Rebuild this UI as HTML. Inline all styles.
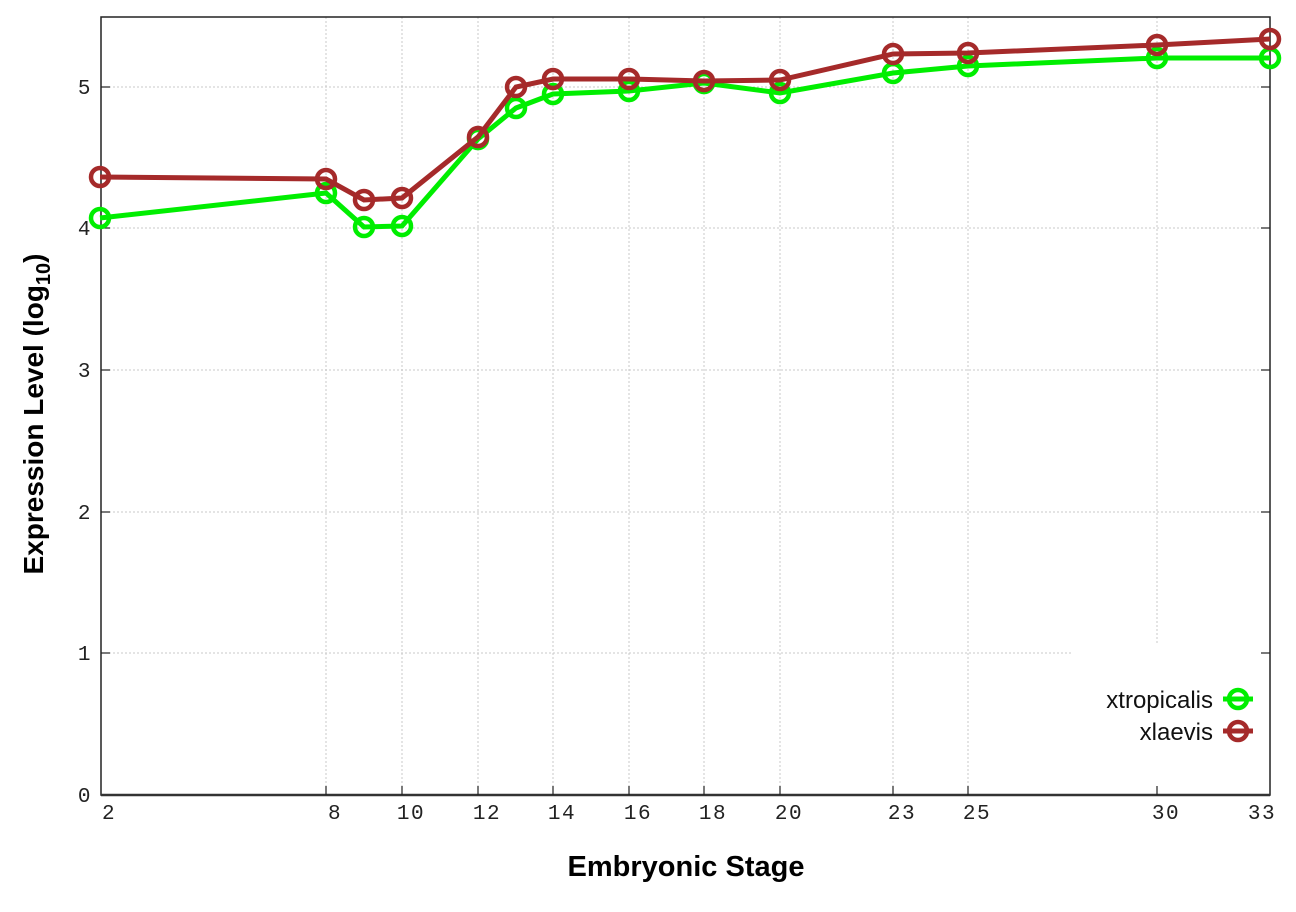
<!DOCTYPE html>
<html><head><meta charset="utf-8"><style>body{margin:0;background:#fff}</style></head><body>
<svg width="1296" height="907" xmlns="http://www.w3.org/2000/svg">
<rect width="1296" height="907" fill="#fff"/>
<g stroke="#c8c8c8" stroke-width="1" stroke-dasharray="2,2">
<line x1="101" y1="87" x2="1270" y2="87"/><line x1="101" y1="228" x2="1270" y2="228"/><line x1="101" y1="370" x2="1270" y2="370"/><line x1="101" y1="512" x2="1270" y2="512"/><line x1="101" y1="653" x2="1072" y2="653"/>
<line x1="326" y1="17" x2="326" y2="795"/><line x1="402" y1="17" x2="402" y2="795"/><line x1="478" y1="17" x2="478" y2="795"/><line x1="553" y1="17" x2="553" y2="795"/><line x1="629" y1="17" x2="629" y2="795"/><line x1="704" y1="17" x2="704" y2="795"/><line x1="780" y1="17" x2="780" y2="795"/><line x1="893" y1="17" x2="893" y2="795"/><line x1="968" y1="17" x2="968" y2="795"/><line x1="1157" y1="17" x2="1157" y2="643"/>
</g>
<rect x="101" y="17" width="1169" height="778" fill="none" stroke="#222" stroke-width="1.5"/>
<line x1="101" y1="795" x2="1270" y2="795" stroke="#333" stroke-width="2.5"/>
<g stroke="#222" stroke-width="1.2">
<line x1="101" y1="87" x2="110" y2="87"/><line x1="1261" y1="87" x2="1270" y2="87"/>
<line x1="101" y1="228" x2="110" y2="228"/><line x1="1261" y1="228" x2="1270" y2="228"/>
<line x1="101" y1="370" x2="110" y2="370"/><line x1="1261" y1="370" x2="1270" y2="370"/>
<line x1="101" y1="512" x2="110" y2="512"/><line x1="1261" y1="512" x2="1270" y2="512"/>
<line x1="101" y1="653" x2="110" y2="653"/><line x1="1261" y1="653" x2="1270" y2="653"/>
<line x1="326" y1="786" x2="326" y2="795"/><line x1="402" y1="786" x2="402" y2="795"/><line x1="478" y1="786" x2="478" y2="795"/><line x1="553" y1="786" x2="553" y2="795"/><line x1="629" y1="786" x2="629" y2="795"/><line x1="704" y1="786" x2="704" y2="795"/><line x1="780" y1="786" x2="780" y2="795"/><line x1="893" y1="786" x2="893" y2="795"/><line x1="968" y1="786" x2="968" y2="795"/><line x1="1157" y1="786" x2="1157" y2="795"/>
</g>
<g font-family="Liberation Mono, monospace" font-size="21" fill="#222" letter-spacing="1.5">
<g text-anchor="end"><text x="92" y="802">0</text><text x="92" y="660">1</text><text x="92" y="519">2</text><text x="92" y="377">3</text><text x="92" y="235">4</text><text x="92" y="94">5</text></g>
<g text-anchor="middle"><text x="109" y="819">2</text><text x="335" y="819">8</text><text x="411" y="819">10</text><text x="487" y="819">12</text><text x="562" y="819">14</text><text x="638" y="819">16</text><text x="713" y="819">18</text><text x="789" y="819">20</text><text x="902" y="819">23</text><text x="977" y="819">25</text><text x="1166" y="819">30</text><text x="1262" y="819">33</text></g>
</g>
<text x="686" y="876" text-anchor="middle" font-family="Liberation Sans, sans-serif" font-weight="bold" font-size="29">Embryonic Stage</text>
<text transform="translate(43,414) rotate(-90)" text-anchor="middle" font-family="Liberation Sans, sans-serif" font-weight="bold" font-size="28">Expression Level (log<tspan font-size="20" dy="7">10</tspan><tspan dy="-7">)</tspan></text>
<g fill="none" stroke-width="5">
<polyline stroke="#00ee00" points="100,218 326,193 364,227 402,226 478,139 516,108 553,94 629,91 704,83 780,93 893,73 968,66 1157,58 1270,58"/>
<g stroke="#00ee00" stroke-width="4.5"><circle cx="100" cy="218" r="9"/><circle cx="326" cy="193" r="9"/><circle cx="364" cy="227" r="9"/><circle cx="402" cy="226" r="9"/><circle cx="478" cy="139" r="9"/><circle cx="516" cy="108" r="9"/><circle cx="553" cy="94" r="9"/><circle cx="629" cy="91" r="9"/><circle cx="704" cy="83" r="9"/><circle cx="780" cy="93" r="9"/><circle cx="893" cy="73" r="9"/><circle cx="968" cy="66" r="9"/><circle cx="1157" cy="58" r="9"/><circle cx="1270" cy="58" r="9"/></g>
<polyline stroke="#a52a2a" points="100,177 326,179 364,200 402,198 478,137 516,87 553,79 629,79 704,81 780,80 893,54 968,53 1157,45 1270,39"/>
<g stroke="#a52a2a" stroke-width="4.5"><circle cx="100" cy="177" r="9"/><circle cx="326" cy="179" r="9"/><circle cx="364" cy="200" r="9"/><circle cx="402" cy="198" r="9"/><circle cx="478" cy="137" r="9"/><circle cx="516" cy="87" r="9"/><circle cx="553" cy="79" r="9"/><circle cx="629" cy="79" r="9"/><circle cx="704" cy="81" r="9"/><circle cx="780" cy="80" r="9"/><circle cx="893" cy="54" r="9"/><circle cx="968" cy="53" r="9"/><circle cx="1157" cy="45" r="9"/><circle cx="1270" cy="39" r="9"/></g>
<line x1="1223" y1="699" x2="1253" y2="699" stroke="#00ee00"/><circle cx="1238" cy="699" r="9" stroke="#00ee00" stroke-width="4.5"/>
<line x1="1223" y1="731" x2="1253" y2="731" stroke="#a52a2a"/><circle cx="1238" cy="731" r="9" stroke="#a52a2a" stroke-width="4.5"/>
</g>
<g font-family="Liberation Sans, sans-serif" font-size="24" fill="#111" text-anchor="end">
<text x="1213" y="708">xtropicalis</text><text x="1213" y="740">xlaevis</text>
</g>
</svg>
</body></html>
